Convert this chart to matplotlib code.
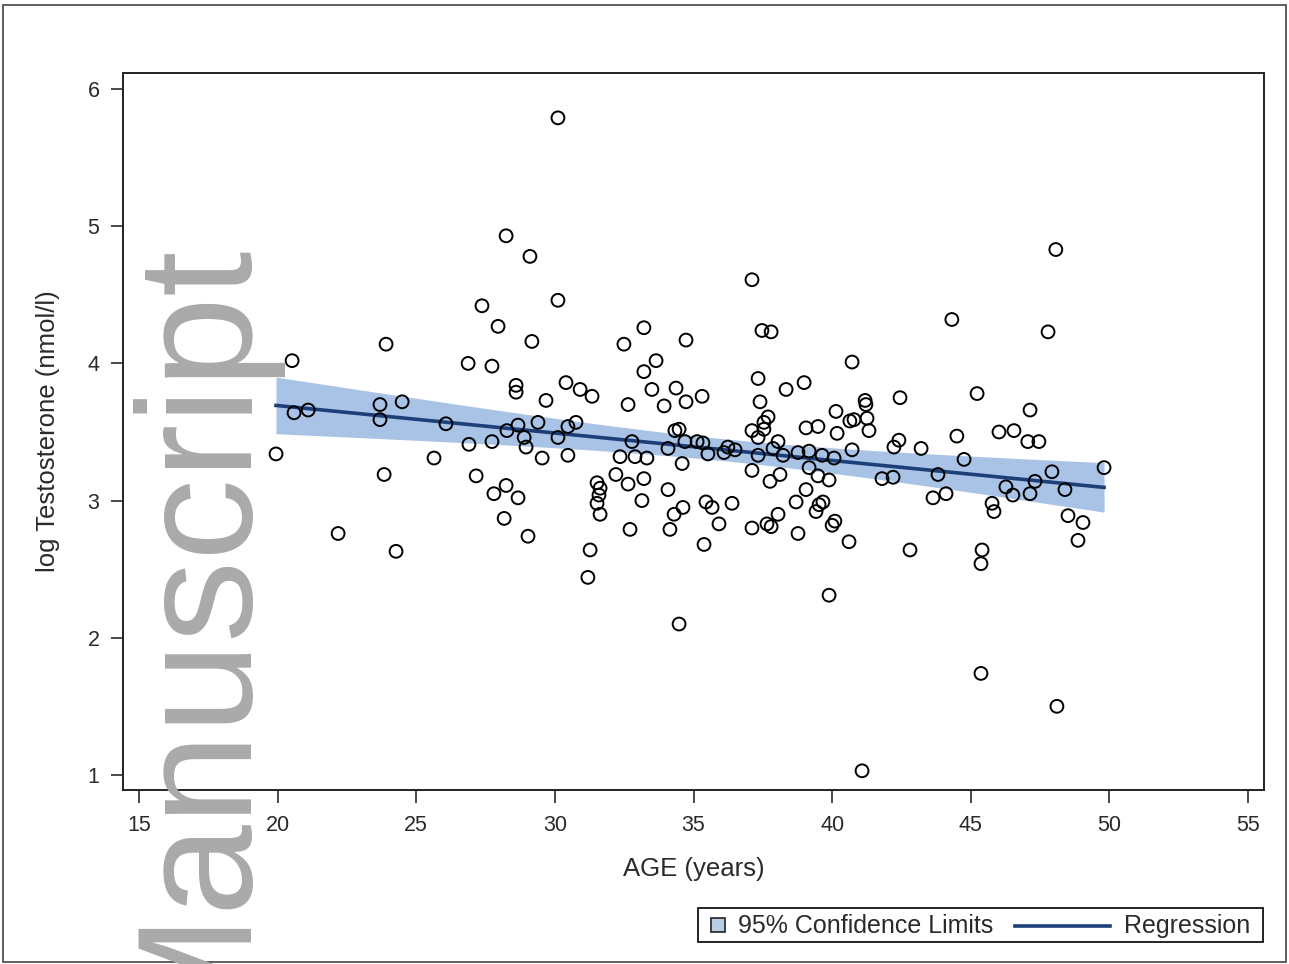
import numpy as np
import matplotlib
matplotlib.use('Agg')
import matplotlib.pyplot as plt
from matplotlib.patches import Rectangle
from matplotlib.lines import Line2D

plt.rcParams['font.family'] = ['Liberation Sans', 'DejaVu Sans']

# age (years) and log testosterone (nmol/l)
age = [
    28.24, 29.10, 30.11, 27.37, 27.95, 29.17, 23.91, 20.52, 26.87, 27.73,
    28.60, 28.60, 29.68, 24.49, 23.69, 21.10, 20.59, 23.69, 26.07, 28.67,
    29.39, 28.27, 28.89, 28.96, 26.90, 27.73, 30.11, 19.94, 25.64, 29.54,
    23.84, 27.16, 28.24, 27.80, 28.67, 28.17, 29.03, 22.18, 24.27,
    37.11, 33.21, 37.47, 37.80, 32.49, 34.73, 33.65, 33.21, 30.40, 30.91,
    31.34, 33.50, 34.37, 37.33, 38.34, 38.99, 35.31, 32.64, 33.94, 34.73,
    37.40, 40.14, 30.76, 30.47, 34.33, 34.48, 37.11, 37.54, 37.69, 37.54,
    37.33, 39.06, 39.49, 40.18, 32.78, 34.69, 35.13, 35.34, 36.24, 36.50,
    38.05, 37.87, 34.08, 35.52, 36.10, 37.33, 38.23, 38.77, 39.17, 39.64,
    40.07, 30.47, 32.35, 32.89, 33.32, 34.59, 32.20, 33.21, 37.11, 39.17,
    38.12, 37.76, 39.49, 39.89, 31.52, 31.63, 31.59, 31.52, 31.63, 32.64,
    34.08, 33.14, 35.45, 35.67, 36.39, 34.62, 34.30, 39.06, 38.70, 39.67,
    39.53, 39.42, 38.05, 35.92, 37.65, 37.80, 37.11, 32.71, 34.15, 38.77,
    40.00, 40.10, 35.38, 31.27, 31.19,
    48.07, 44.32, 47.79, 40.72, 45.23, 42.45, 47.14, 41.19, 41.22, 41.26,
    40.64, 40.79, 41.33, 44.50, 46.02, 46.56, 47.06, 47.46, 42.41, 42.23,
    43.21, 40.72, 44.76, 49.81, 47.93, 43.82, 41.80, 42.20, 47.32, 46.27,
    46.52, 47.14, 48.40, 43.64, 44.11, 45.77, 45.84, 48.51, 49.05, 48.87,
    40.61, 42.81, 45.41, 45.37,
    34.48, 39.89, 45.37, 48.11, 41.08, 30.11,
]
log_t = [
    4.93, 4.78, 4.46, 4.42, 4.27, 4.16, 4.14, 4.02, 4.00, 3.98,
    3.84, 3.79, 3.73, 3.72, 3.70, 3.66, 3.64, 3.59, 3.56, 3.55,
    3.57, 3.51, 3.46, 3.39, 3.41, 3.43, 3.46, 3.34, 3.31, 3.31,
    3.19, 3.18, 3.11, 3.05, 3.02, 2.87, 2.74, 2.76, 2.63,
    4.61, 4.26, 4.24, 4.23, 4.14, 4.17, 4.02, 3.94, 3.86, 3.81,
    3.76, 3.81, 3.82, 3.89, 3.81, 3.86, 3.76, 3.70, 3.69, 3.72,
    3.72, 3.65, 3.57, 3.54, 3.51, 3.52, 3.51, 3.57, 3.61, 3.52,
    3.46, 3.53, 3.54, 3.49, 3.43, 3.43, 3.43, 3.42, 3.39, 3.37,
    3.43, 3.38, 3.38, 3.34, 3.35, 3.33, 3.33, 3.35, 3.36, 3.33,
    3.31, 3.33, 3.32, 3.32, 3.31, 3.27, 3.19, 3.16, 3.22, 3.24,
    3.19, 3.14, 3.18, 3.15, 3.13, 3.09, 3.04, 2.98, 2.90, 3.12,
    3.08, 3.00, 2.99, 2.95, 2.98, 2.95, 2.90, 3.08, 2.99, 2.99,
    2.97, 2.92, 2.90, 2.83, 2.83, 2.81, 2.80, 2.79, 2.79, 2.76,
    2.82, 2.85, 2.68, 2.64, 2.44,
    4.83, 4.32, 4.23, 4.01, 3.78, 3.75, 3.66, 3.73, 3.70, 3.60,
    3.58, 3.59, 3.51, 3.47, 3.50, 3.51, 3.43, 3.43, 3.44, 3.39,
    3.38, 3.37, 3.30, 3.24, 3.21, 3.19, 3.16, 3.17, 3.14, 3.10,
    3.04, 3.05, 3.08, 3.02, 3.05, 2.98, 2.92, 2.89, 2.84, 2.71,
    2.70, 2.64, 2.64, 2.54,
    2.10, 2.31, 1.74, 1.50, 1.03, 5.79,
]

x = np.array(age)
y = np.array(log_t)

# linear fit with 95% confidence band for the mean
slope, intercept = np.polyfit(x, y, 1)
n = len(x)
resid = y - (intercept + slope * x)
s = np.sqrt(np.sum(resid ** 2) / (n - 2))
xs = np.linspace(x.min(), x.max(), 100)
fit = intercept + slope * xs
se = s * np.sqrt(1 / n + (xs - x.mean()) ** 2 / np.sum((x - x.mean()) ** 2))
lower = fit - 1.97 * se
upper = fit + 1.97 * se

W, H = 1289, 964
fig = plt.figure(figsize=(W / 100, H / 100), dpi=100)
ax = fig.add_axes([123 / W, 1 - 790 / H, 1141 / W, 717 / H])

band_color = '#a9c3e6'
line_color = '#1c3f78'
text_color = '#2a2a2a'

ax.fill_between(xs, lower, upper, color=band_color, linewidth=0, zorder=1)
ax.plot(xs, fit, color=line_color, linewidth=2.6, zorder=2)
ax.scatter(x, y, s=85, facecolors='none', edgecolors='black',
           linewidths=1.4, zorder=3)

ax.set_xlim(14.42, 55.58)
ax.set_ylim(0.89, 6.117)
ax.set_xticks(range(15, 56, 5))
ax.set_yticks(range(1, 7))
ax.tick_params(direction='out', length=9, width=1.2, colors=text_color,
               labelsize=15.5)
ax.tick_params(axis='x', pad=9)
ax.tick_params(axis='y', pad=8)
for sp in ax.spines.values():
    sp.set_linewidth(1.4)
    sp.set_color('#222222')

ax.set_xlabel('AGE (years)', fontsize=18.5, color=text_color, labelpad=15)
ax.set_ylabel('log Testosterone (nmol/l)', fontsize=18.5, color=text_color,
              labelpad=20)

# legend box drawn at the bottom right
def fx(px):
    return px / W


def fy(py):
    return 1 - py / H


fig.patches.append(Rectangle((fx(698), fy(942)), 565 / W, 34 / H,
                             transform=fig.transFigure, fill=False,
                             edgecolor='#111111', linewidth=1.3))
fig.patches.append(Rectangle((fx(711), fy(932)), 14 / W, 14 / H,
                             transform=fig.transFigure, facecolor='#b9cde3',
                             edgecolor='#222222', linewidth=1.2))
fig.text(fx(738), fy(926), '95% Confidence Limits', fontsize=18,
         color=text_color, va='center', ha='left')
fig.lines.append(Line2D([fx(1015), fx(1110)], [fy(926), fy(926)],
                        transform=fig.transFigure, color=line_color,
                        linewidth=2.6))
fig.text(fx(1124), fy(926), 'Regression', fontsize=18,
         color=text_color, va='center', ha='left')

# watermark
fig.text(fx(273), fy(236), 'Manuscript', rotation=90,
         ha='right', va='top', fontsize=118, color='#aaaaaa', zorder=10)

# outer frame
fig.patches.append(Rectangle((fx(3), fy(962)), 1283 / W, 957 / H,
                             transform=fig.transFigure, fill=False,
                             edgecolor='#444444', linewidth=1.2))

fig.savefig('out.png', dpi=100)
